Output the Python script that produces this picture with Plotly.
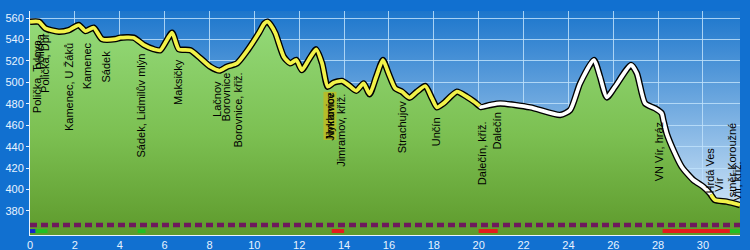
import base64
import numpy as np
import plotly.graph_objects as go

# ---------------- data ----------------
PROFILE_KM = [0.00, 0.40, 0.69, 1.28, 1.73, 2.17, 2.47, 2.84, 3.21, 3.81, 4.03, 4.62,
              5.07, 5.51, 5.81, 6.33, 6.63, 7.15, 7.60, 8.04, 8.45, 8.78, 9.23, 9.70,
              10.20, 10.45, 10.59, 10.75, 10.94, 11.31, 11.60, 11.87, 12.12, 12.42,
              12.76, 13.02, 13.27, 13.53, 13.90, 14.20, 14.54, 14.87, 15.14, 15.43,
              15.73, 15.98, 16.28, 16.58, 16.92, 17.25, 17.62, 17.92, 18.14, 18.43,
              19.03, 19.47, 19.80, 20.10, 20.51, 20.96, 22.30, 23.63, 24.08, 24.52,
              25.14, 25.41, 25.71, 26.08, 26.79, 27.05, 27.42, 27.86, 28.16, 28.23,
              28.38, 28.68, 29.05, 29.57, 30.01, 30.31, 30.53, 31.06, 31.65]
PROFILE_ELEV = [556.5, 556.5, 550.4, 547.3, 548.8, 553.5, 547.9, 551.0, 540.4, 540.4, 541.7, 541.7,
                535.0, 531.0, 530.0, 546.3, 531.0, 530.0, 522.5, 514.6, 511.0, 514.6, 517.8, 530.0,
                546.0, 555.0, 556.6, 553.0, 545.8, 524.0, 517.8, 520.9, 511.5, 520.9,
                530.8, 517.8, 496.0, 499.7, 501.3, 497.5, 492.2, 499.0, 489.0, 505.0,
                520.9, 508.5, 494.5, 491.3, 485.7, 491.3, 496.6, 485.0, 476.7, 480.4,
                491.3, 486.6, 482.0, 477.0, 478.9, 480.4, 476.7, 469.6, 474.2, 499.0,
                520.9, 505.3, 486.0, 496.0, 516.2, 508.5, 480.4, 475.8, 471.1, 464.9,
                452.5, 436.9, 421.3, 408.9, 402.7, 396.5, 390.3, 388.7, 385.6]

# line colour sections: (start km, end km, colour)
LINE_SECTIONS = [(0.00, 20.05, "#f2f24a"), (20.05, 30.35, "#ffffff"), (30.35, 31.65, "#f2f24a")]

# waypoint labels: name, km
WAYPOINT_NAMES = ["Polička, Tylova", "Polička", "Polička, Dpr.", "Kamenec, U Žáků", "Kamenec",
                  "Sádek", "Sádek, Lidmilův mlýn", "Maksičky", "Lačnov", "Borovnice",
                  "Borovnice, křiž.", "Nyklovice", "Jimramov", "Jimramov, křiž.", "Strachujov",
                  "Unčín", "Dalečín, křiž.", "Dalečín", "VN Vír, hráz", "Hrdá Ves", "Vír",
                  "směr Koroužné", "Vír, křiž."]
WAYPOINT_KM = [0.32, 0.47, 0.66, 1.71, 2.55, 3.41, 4.97, 6.59, 8.33, 8.75, 9.29, 13.38, 13.38,
               13.83, 16.59, 18.10, 20.16, 20.83, 28.04, 30.30, 30.70, 31.30, 31.52]
# elevation where each label's upper end sits
WAYPOINT_LABEL_TOP = [541.4, 546.0, 548.8, 538.0, 538.0, 530.2, 528.3, 522.7, 502.2, 510.0, 510.0,
                      491.3, 491.3, 490.0, 483.5, 468.0, 465.0, 472.6, 463.3, 440.0, 411.7,
                      463.3, 427.6]
HIGHLIGHTED = ["Nyklovice"]

# bottom strip sections: (start km, end km, colour)
STRIP_SECTIONS = [(0.00, 0.25, "#1428c8"), (0.25, 0.78, "#22c022"), (4.80, 5.15, "#22c022"),
                  (13.45, 14.00, "#e41c1c"), (20.00, 20.85, "#e41c1c"), (28.20, 31.20, "#e41c1c"),
                  (31.20, 31.65, "#22c022")]
DOT_ROW_ELEV = 366.9
STRIP_ROW_ELEV = 361.3

Y_TICKS = list(range(380, 561, 20))
X_RANGE = [0, 31.65]
Y_RANGE = [357.6, 566.6]

# ---------------- figure ----------------
km = np.array(PROFILE_KM)
el = np.array(PROFILE_ELEV)

fig = go.Figure()

# green area under the profile
fig.add_trace(go.Scatter(
    x=km, y=el, mode="lines", line=dict(width=0, shape="spline", smoothing=0.6),
    fill="tozeroy",
    fillgradient=dict(type="vertical",
                      colorscale=[[0, "#5e9a2c"], [0.45, "#7cc052"], [1, "#96dc7c"]],
                      start=Y_RANGE[0], stop=Y_RANGE[1]),
    hoverinfo="skip", showlegend=False))

# black outline of the profile
fig.add_trace(go.Scatter(x=km, y=el, mode="lines",
                         line=dict(color="#000000", width=6.5, shape="spline", smoothing=0.6),
                         hoverinfo="skip", showlegend=False))

# coloured profile sections
for a, b, col in LINE_SECTIONS:
    inner = (km > a) & (km < b)
    xs = np.concatenate([[a], km[inner], [b]])
    ys = np.concatenate([[np.interp(a, km, el)], el[inner], [np.interp(b, km, el)]])
    fig.add_trace(go.Scatter(x=xs, y=ys, mode="lines",
                             line=dict(color=col, width=3.8, shape="spline", smoothing=0.6),
                             hoverinfo="skip", showlegend=False))

# dotted purple row
fig.add_trace(go.Scatter(x=X_RANGE, y=[DOT_ROW_ELEV, DOT_ROW_ELEV], mode="lines",
                         line=dict(color="#6e1a5c", width=4.5, dash="7px,4px"),
                         hoverinfo="skip", showlegend=False))

# surface strip
for a, b, col in STRIP_SECTIONS:
    fig.add_trace(go.Scatter(x=[a, b], y=[STRIP_ROW_ELEV, STRIP_ROW_ELEV], mode="lines",
                             line=dict(color=col, width=4),
                             hoverinfo="skip", showlegend=False))

# waypoint labels
for name, k, top in zip(WAYPOINT_NAMES, WAYPOINT_KM, WAYPOINT_LABEL_TOP):
    fig.add_annotation(x=k, y=top, text=name, textangle=-90, showarrow=False,
                       xanchor="center", yanchor="top", borderpad=0,
                       bgcolor="#b4bc2a" if name in HIGHLIGHTED else "rgba(0,0,0,0)",
                       font=dict(family="Liberation Sans, Arial", size=11, color="#000000"))

# blue gradient plot background
svg = ("<svg xmlns='http://www.w3.org/2000/svg' width='10' height='100' preserveAspectRatio='none'>"
       "<defs><linearGradient id='g' x1='0' y1='0' x2='0' y2='1'>"
       "<stop offset='0' stop-color='#1c76cc'/><stop offset='1' stop-color='#e4f1fb'/>"
       "</linearGradient></defs><rect width='10' height='100' fill='url(#g)'/></svg>")
src = "data:image/svg+xml;base64," + base64.b64encode(svg.encode()).decode()
fig.add_layout_image(source=src, xref="paper", yref="paper", x=0, y=1, sizex=1, sizey=1,
                     xanchor="left", yanchor="top", sizing="stretch", layer="below")

axis_font = dict(family="Liberation Sans, Arial", size=11, color="#e8f3ff")
fig.update_layout(
    width=750, height=250,
    margin=dict(l=30, r=10, t=11, b=15, autoexpand=False),
    paper_bgcolor="#1170d0",
    plot_bgcolor="rgba(0,0,0,0)",
    showlegend=False,
    xaxis=dict(range=X_RANGE, dtick=2, tick0=0, showgrid=True, gridcolor="rgba(190,225,250,0.85)",
               gridwidth=1, zeroline=False, showline=True, linecolor="#e8f3ff", linewidth=1,
               ticks="", tickfont=axis_font, ticklabelstandoff=0,
               automargin=False),
    yaxis=dict(range=Y_RANGE, tickvals=Y_TICKS, showgrid=True, gridcolor="rgba(190,225,250,0.85)",
               gridwidth=1, zeroline=False, showline=True, linecolor="#e8f3ff", linewidth=1,
               ticks="outside", ticklen=3, tickcolor="#e8f3ff", tickfont=axis_font,
               automargin=False),
)

fig.write_html("out.html")
